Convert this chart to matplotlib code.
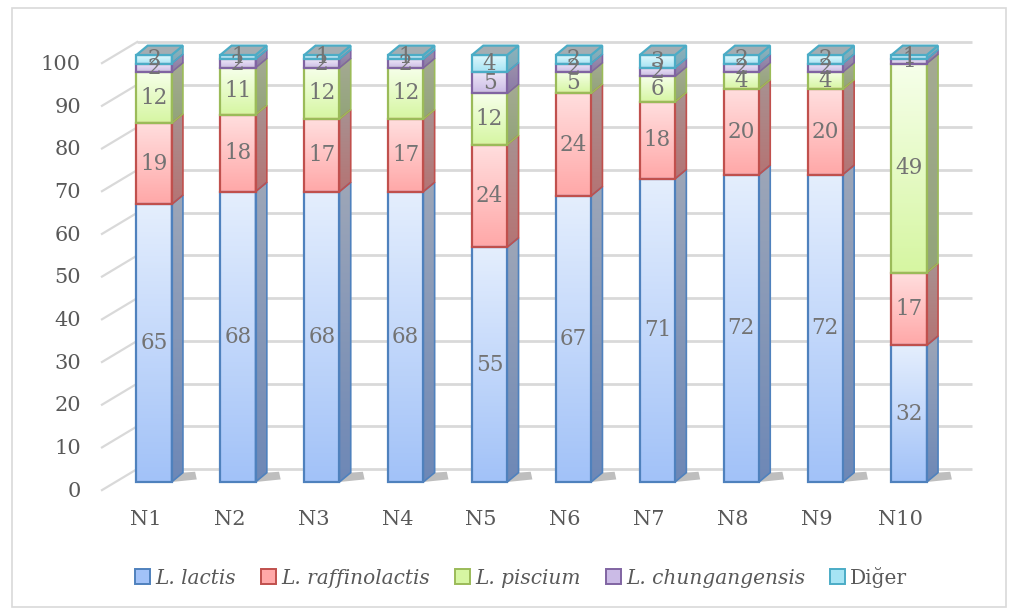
import matplotlib
matplotlib.use('Agg')
import matplotlib.pyplot as plt
import numpy as np
from matplotlib.patches import Polygon, Rectangle, Patch
from matplotlib.colors import LinearSegmentedColormap

samples = ['N1', 'N2', 'N3', 'N4', 'N5', 'N6', 'N7', 'N8', 'N9', 'N10']
species = ['L. lactis', 'L. raffinolactis', 'L. piscium', 'L. chungangensis', 'Diğer']
lactis = [65, 68, 68, 68, 55, 67, 71, 72, 72, 32]
raffinolactis = [19, 18, 17, 17, 24, 24, 18, 20, 20, 17]
piscium = [12, 11, 12, 12, 12, 5, 6, 4, 4, 49]
chungangensis = [2, 2, 2, 2, 5, 2, 2, 2, 2, 1]
diger = [2, 1, 1, 1, 4, 2, 3, 2, 2, 1]
yticks = list(range(0, 101, 10))

series = [lactis, raffinolactis, piscium, chungangensis, diger]
# front face: top colour, bottom colour, edge; side face: top, bottom
face_top = ['#e4eefd', '#ffdede', '#f6ffea', '#eee8f7', '#e2f8fd']
face_bot = ['#a2c2f8', '#ffa8a8', '#d6f6a2', '#cbbbe6', '#a6e4f4']
edges = ['#4f81bd', '#c0504d', '#9bbb59', '#8064a2', '#4bacc6']
side_top = ['#9da6b8', '#a89191', '#a5aa94', '#9d93aa', '#93b1b9']
side_bot = ['#6e88b6', '#b57474', '#92a479', '#8a78a8', '#74aabb']

txt = '#595959'
font = 'DejaVu Serif'

fig = plt.figure(figsize=(10.12, 6.15), dpi=100)
ax = fig.add_axes([0, 0, 1, 1])
# 1 category = 83.9 px, 1 % = 4.27 px; N1 centre at x=154 px, 0 % at y=482 px
ax.set_xlim(-154 / 83.9, (1012 - 154) / 83.9)
ax.set_ylim(-133 / 4.27, (615 - 133) / 4.27)
ax.axis('off')

w = 0.21          # half bar width
ddx, ddy = 0.135, 2.2   # bar depth
wx0, wx1 = -0.20, 9.75  # back wall extent
wdy = 3.05              # back wall raise
sx, sdy = -0.62, -1.9   # front edge of side wall

# back wall and side wall grid
for v in yticks:
    ax.plot([wx0, wx1], [v + wdy, v + wdy], color='#d9d9d9', lw=2, zorder=1, solid_capstyle='butt')
    ax.plot([sx, wx0], [v + sdy, v + wdy], color='#d9d9d9', lw=1.6, zorder=1)
    ax.text(-0.87, v - 2.2, str(v), ha='right', va='center', fontsize=15, color=txt, family=font)

grad = np.linspace(0, 1, 64).reshape(-1, 1)

for i in range(len(samples)):
    x0, x1 = i - w, i + w
    # floor shadow
    ax.add_patch(Polygon([(x1, 0), (x1 + 0.30, 0.6), (x1 + 0.28, 2.4), (x1 + ddx, ddy)],
                         closed=True, facecolor='#6f6f6f', alpha=0.45, edgecolor='none', zorder=2))
    base = 0
    for s in range(len(series)):
        val = series[s][i]
        y0, y1 = base, base + val
        cmap = LinearSegmentedColormap.from_list('f', [face_bot[s], face_top[s]])
        ax.imshow(grad, cmap=cmap, extent=[x0, x1, y0, y1], origin='lower',
                  aspect='auto', interpolation='bilinear', zorder=3)
        ax.add_patch(Rectangle((x0, y0), 2 * w, val, facecolor='none',
                               edgecolor=edges[s], lw=1.6, zorder=4))
        side = Polygon([(x1, y0), (x1 + ddx, y0 + ddy), (x1 + ddx, y1 + ddy), (x1, y1)],
                       closed=True, facecolor='none', edgecolor=edges[s], lw=1.2, zorder=4)
        ax.add_patch(side)
        scmap = LinearSegmentedColormap.from_list('s', [side_bot[s], side_top[s]])
        im = ax.imshow(grad, cmap=scmap, extent=[x1, x1 + ddx, y0, y1 + ddy], origin='lower',
                       aspect='auto', interpolation='bilinear', zorder=3)
        im.set_clip_path(side)
        ax.text(i, (y0 + y1) / 2, str(val), ha='center', va='center', fontsize=15.5,
                color='#737373', family=font, zorder=6)
        base = y1
    # top face
    ax.add_patch(Polygon([(x0, base), (x0 + ddx, base + ddy), (x1 + ddx, base + ddy), (x1, base)],
                         closed=True, facecolor='#a3adb2', edgecolor=edges[-1], lw=1.6, zorder=5))
    ax.text(i - 0.1, -8.7, samples[i], ha='center', va='center', fontsize=15, color=txt, family=font)

# chart border
fig.patches.append(Rectangle((12 / 1012, 1 - 607 / 615), 994 / 1012, 599 / 615,
                             transform=fig.transFigure, fill=False, edgecolor='#d9d9d9', lw=1.2))

handles = [Patch(facecolor=face_bot[s], edgecolor=edges[s], lw=1.4) for s in range(len(species))]
leg = fig.legend(handles, species, loc='center', bbox_to_anchor=(0.515, 1 - 577 / 615), ncol=5,
                 frameon=False, handlelength=0.75, handleheight=0.75, handletextpad=0.25,
                 columnspacing=1.25, prop={'family': font, 'size': 14.5})
for t, name in zip(leg.get_texts(), species):
    t.set_color(txt)
    if name.startswith('L.'):
        t.set_style('italic')

fig.savefig('out.png', dpi=100)
